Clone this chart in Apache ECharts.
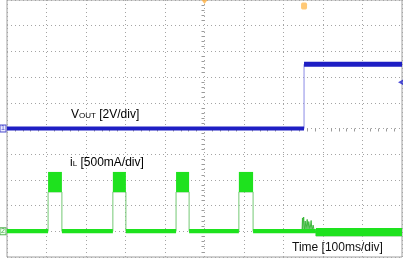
<!DOCTYPE html>
<html><head><meta charset="utf-8">
<script src="https://cdn.jsdelivr.net/npm/echarts@6/dist/echarts.min.js"></script>
<style>html,body{margin:0;padding:0;background:#fff}#c{width:403px;height:258px}</style>
</head><body><div id="c"></div>
<script>
// Time axis: ms, 100 ms/div, 10 divisions
const timeRange = [0, 1000];
const timeStep = 100;
// Vout channel: volts, 2 V/div, 0 V at screen centre
const voutRange = [-10, 10];
const voutStep = 2;
// iL channel: mA, 500 mA/div, 0 mA one division above the bottom
const ilRange = [-500, 4500];
const ilStep = 500;

// Vout trace (time ms, V)
const voutTrace = [[0, 0], [752, 0], [752, 5], [1000, 5]];
// Vout noise bands [t0 ms, t1 ms, low V, high V]
const voutBands = [[0, 752, -0.15, 0.15], [752, 1000, 4.8, 5.2]];

// iL trace edges (time ms, mA)
const ilTrace = [[0, 0], [104, 0], [104, 765], [139, 765], [139, 0],
  [268, 0], [268, 765], [301, 765], [301, 0],
  [428, 0], [428, 765], [461, 765], [461, 0],
  [587, 0], [587, 765], [623, 765], [623, 0],
  [782, 0], [782, -92], [1000, -92]];
// ringing while the output rises (time ms, mA)
const ilSpikes = [[747, 0], [748, 260], [749, 10], [751, 278], [753, 30], [755, 200], [757, 20],
  [760, 230], [762, 30], [764, 190], [767, 20], [770, 210], [772, 10], [775, 120], [778, 0], [782, 0]];
// iL noise bands [t0 ms, t1 ms, low mA, high mA]
const ilBands = [[0, 104, -40, 45], [104, 139, 765, 1155], [139, 268, -40, 45], [268, 301, 765, 1155],
  [301, 428, -40, 45], [428, 461, 765, 1155], [461, 587, -40, 45], [587, 623, 765, 1155],
  [623, 782, -40, 45], [782, 1000, -92, 64]];

// scope markers
const ch1Ref = [[0, 0]];        // V
const ch2Ref = [[0, 0]];        // mA
const trigLevel = [[1000, 3.6]]; // V
const horizPos = [[500, 10]];   // ms, V (top edge)
const trigTime = [[752, 10]];   // ms, V (top edge)

const labelVout = '{m|V}{s|OUT}{m| [2V/div]}';
const labelIl = '{m|i}{s|L}{m| [500mA/div]}';
const labelTime = 'Time [100ms/div]';

const FONT = '"Liberation Sans", Arial, sans-serif';
const gridLine = { show: true, lineStyle: { color: '#a4a4a4', type: [1, 3], width: 1 } };

function bandRender(params, api) {
  const p0 = api.coord([api.value(0), api.value(3)]);
  const p1 = api.coord([api.value(1), api.value(2)]);
  return { type: 'rect', shape: { x: p0[0], y: p0[1], width: p1[0] - p0[0], height: Math.max(1, p1[1] - p0[1]) },
    style: { fill: api.visual('color') } };
}

const rich = {
  m: { fontSize: 12, fontFamily: FONT, color: '#111', verticalAlign: 'bottom', lineHeight: 14 },
  s: { fontSize: 8, fontFamily: FONT, color: '#111', verticalAlign: 'bottom', lineHeight: 14, padding: [0, 0, 1, 0] }
};

const chart = echarts.init(document.getElementById('c'), null, { renderer: 'canvas' });
chart.setOption({
  animation: false,
  backgroundColor: '#ffffff',
  grid: { left: 7, right: 1, top: 0, bottom: 1, show: true, borderColor: '#a0a0a0', borderWidth: 1 },
  xAxis: {
    type: 'value', min: timeRange[0], max: timeRange[1], interval: timeStep,
    axisLabel: { show: false }, axisTick: { show: false },
    axisLine: { show: false, onZero: true, onZeroAxisIndex: 0 },
    minorTick: { show: true, splitNumber: 5, length: 3, lineStyle: { color: '#9a9a9a' } },
    splitLine: gridLine
  },
  yAxis: [
    { type: 'value', min: voutRange[0], max: voutRange[1], interval: voutStep,
      axisLabel: { show: false }, axisTick: { show: false }, axisLine: { show: false, onZero: false },
      splitLine: gridLine },
    { type: 'value', min: ilRange[0], max: ilRange[1], interval: ilStep, show: false,
      axisLine: { onZero: false }, splitLine: { show: false } },
    { type: 'value', min: voutRange[0], max: voutRange[1], interval: voutStep, position: 'left', offset: -197.5,
      axisLabel: { show: false }, axisTick: { show: false }, axisLine: { show: false, onZero: false },
      minorTick: { show: true, splitNumber: 5, length: 3, lineStyle: { color: '#9a9a9a' } },
      splitLine: { show: false } }
  ],
  series: [
    { type: 'line', yAxisIndex: 0, data: voutTrace, symbol: 'none', lineStyle: { color: '#8c8ce6', width: 1 }, z: 3 },
    { type: 'custom', yAxisIndex: 0, data: voutBands, renderItem: bandRender, itemStyle: { color: '#1e1ec4' }, z: 4 },
    { type: 'line', yAxisIndex: 1, data: ilTrace, symbol: 'none', lineStyle: { color: '#74c874', width: 1 }, z: 3 },
    { type: 'line', yAxisIndex: 1, data: ilSpikes, symbol: 'none', lineStyle: { color: '#3cb83c', width: 1 }, z: 3 },
    { type: 'custom', yAxisIndex: 1, data: ilBands, renderItem: bandRender, itemStyle: { color: '#1ee21e' }, z: 4 },
    { type: 'scatter', yAxisIndex: 0, data: ch1Ref, clip: false, symbol: 'rect', symbolSize: [6, 7], symbolOffset: [-4, 0],
      itemStyle: { color: '#e8e8ff', borderColor: '#2020c0', borderWidth: 1 },
      label: { show: true, position: 'inside', formatter: '1', fontSize: 7, color: '#2020c0', fontFamily: FONT }, z: 6 },
    { type: 'scatter', yAxisIndex: 1, data: ch2Ref, clip: false, symbol: 'rect', symbolSize: [6, 7], symbolOffset: [-4, 0],
      itemStyle: { color: '#e8ffe8', borderColor: '#30a030', borderWidth: 1 },
      label: { show: true, position: 'inside', formatter: '2', fontSize: 7, color: '#209020', fontFamily: FONT }, z: 6 },
    { type: 'scatter', yAxisIndex: 0, data: trigLevel, clip: false, symbol: 'arrow', symbolSize: [5, 6], symbolRotate: 90,
      symbolOffset: [-4, 0], itemStyle: { color: '#2020d0' }, z: 6 },
    { type: 'scatter', yAxisIndex: 0, data: horizPos, clip: false, symbol: 'triangle', symbolSize: [6, 4], symbolRotate: 180,
      symbolOffset: [0, 2], itemStyle: { color: '#ffb040' }, z: 6 },
    { type: 'scatter', yAxisIndex: 0, data: trigTime, clip: false, symbol: 'roundRect', symbolSize: [6, 7],
      symbolOffset: [0, 6], itemStyle: { color: '#ffbb55' }, z: 6 }
  ],
  graphic: [
    { type: 'text', x: 71, y: 107, z: 10, style: { text: labelVout, rich: rich } },
    { type: 'text', x: 70, y: 155, z: 10, style: { text: labelIl, rich: rich } },
    { type: 'text', x: 292, y: 242, z: 10, style: { text: labelTime, fontSize: 12, fontFamily: FONT, fill: '#111' } }
  ]
});
</script>
</body></html>
